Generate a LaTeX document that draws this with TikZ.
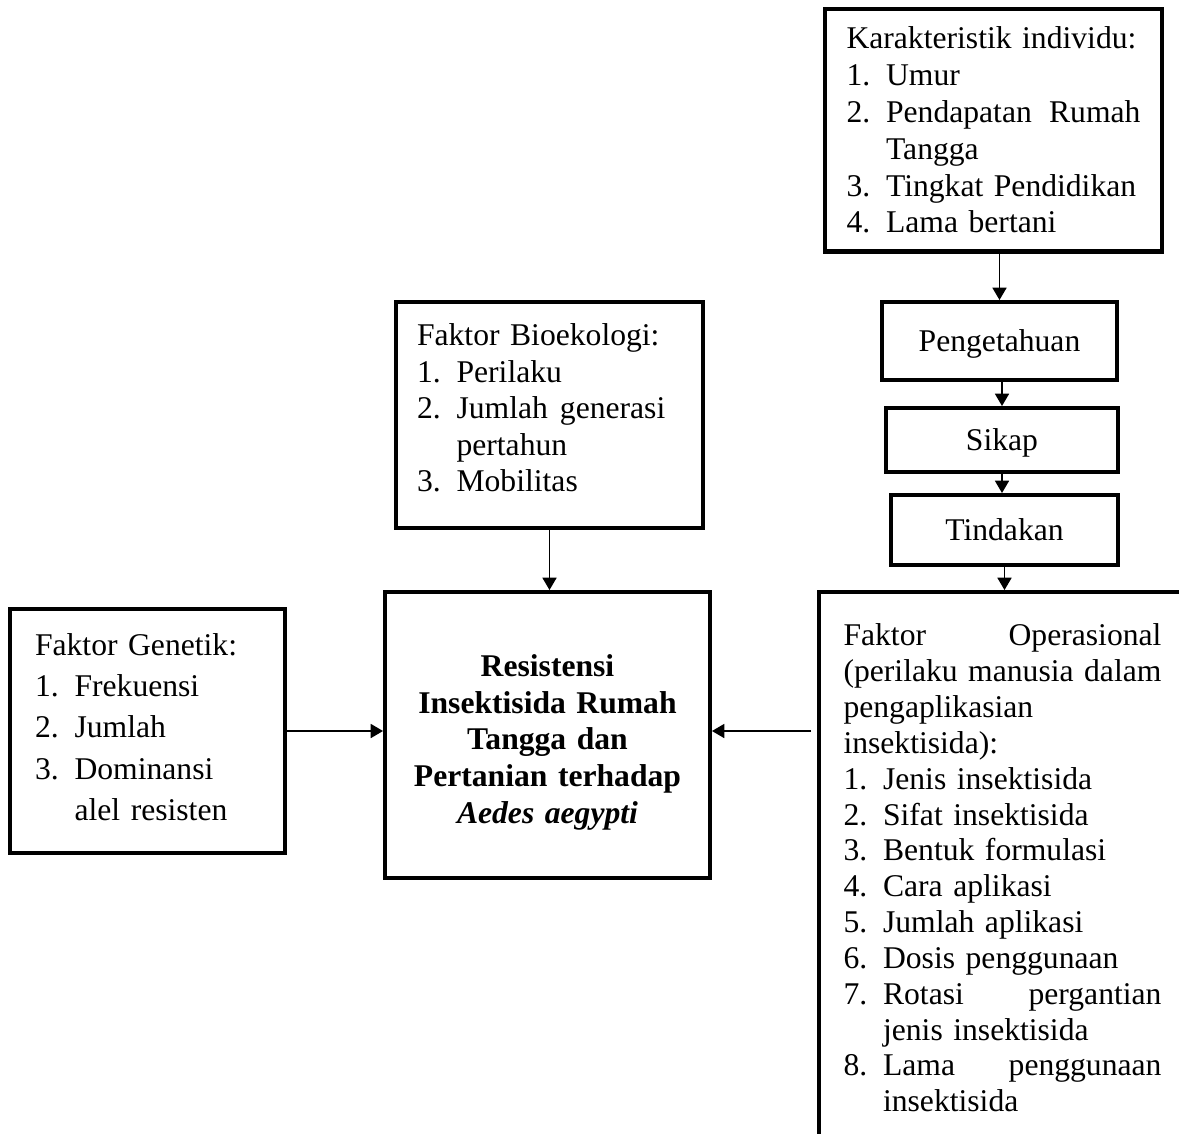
\documentclass[tikz,border=0pt]{standalone}
\usepackage{fontspec}
\setmainfont{Liberation Serif}
\usetikzlibrary{arrows.meta}
\tikzstyle{factor}=[
	rectangle,
	draw,
	line width=2.3pt,
	align=left,
	font=\fontsize{18}{20.75}\selectfont
]
\tikzstyle{stage}=[
	rectangle,
	draw,
	line width=2.3pt,
	text height=14pt,
	text depth=2pt,
	font=\fontsize{18}{21}\selectfont
]
\tikzstyle{flow}=[
	->,
	>={Triangle[length=7pt,width=8pt]},
	line width=0.8pt
]
\newcommand{\itm}[2]{\par\noindent\hangindent=1.25em\hangafter=1\makebox[1.25em][l]{#1.}#2\par}

\begin{document}
\begin{tikzpicture}[x=0.02cm,y=-0.02cm]
\useasboundingbox (0,0) rectangle (1179,1133);
\node [factor, text width=5.88cm, minimum width=6.74cm, minimum height=4.86cm, font=\fontsize{18}{21}\selectfont] (Karakteristik) at (993.5,130) {Karakteristik individu:
	\itm{1}{Umur}
	\itm{2}{Pendapatan \hfill Rumah\newline Tangga}
	\itm{3}{Tingkat Pendidikan}
	\itm{4}{Lama bertani}};
\node [stage, minimum width=4.7cm, minimum height=1.56cm] (Pengetahuan) at (999.5,341) {Pengetahuan};
\node [stage, minimum width=4.64cm, minimum height=1.28cm] (Sikap) at (1002,440) {Sikap};
\node [stage, minimum width=4.54cm, minimum height=1.4cm] (Tindakan) at (1004.5,530) {Tindakan};
\node [factor, text width=5.3cm, minimum width=6.14cm, minimum height=4.52cm] (Bioekologi) at (549.5,415) {Faktor Bioekologi:
	\itm{1}{Perilaku}
	\itm{2}{Jumlah\hspace{0.38em}generasi\newline pertahun}
	\itm{3}{Mobilitas}\kern0.28cm};
\node [factor, text width=4.5cm, minimum width=5.5cm, minimum height=4.88cm, font=\fontsize{18}{23.5}\selectfont] (Genetik) at (147.5,731) {Faktor Genetik:
	\itm{1}{Frekuensi}
	\itm{2}{Jumlah}
	\itm{3}{Dominansi\newline alel resisten}\kern0.16cm};
\node [factor, align=center, text width=5.6cm, minimum width=6.5cm, minimum height=5.72cm, font=\fontsize{18}{20.9}\selectfont\bfseries] (Resistensi) at (547.5,735) {\rule{0pt}{0.14cm}\\[-0.14cm]Resistensi\\Insektisida Rumah\\Tangga dan\\Pertanian terhadap\\\textit{Aedes aegypti}};
\node [factor, text width=6.36cm, minimum width=7.34cm, minimum height=11.04cm, font=\fontsize{18}{20.4}\selectfont] (Operasional) at (1002.5,868) {Faktor \hfill Operasional\newline
	(perilaku manusia dalam\newline
	pengaplikasian\newline
	insektisida):
	\itm{1}{Jenis insektisida}
	\itm{2}{Sifat insektisida}
	\itm{3}{Bentuk formulasi}
	\itm{4}{Cara aplikasi}
	\itm{5}{Jumlah aplikasi}
	\itm{6}{Dosis penggunaan}
	\itm{7}{Rotasi \hfill pergantian\newline jenis insektisida}
	\itm{8}{Lama \hfill penggunaan\newline insektisida}};
\draw [flow] (Pengetahuan.north |- Karakteristik.south) -- (Pengetahuan.north);
\draw [flow] (Sikap.north |- Pengetahuan.south) -- (Sikap.north);
\draw [flow] (Sikap.south) -- (Sikap.south |- Tindakan.north);
\draw [flow] (Tindakan.south) -- (Tindakan.south |- Operasional.north);
\draw [flow] (Bioekologi.south) -- (Bioekologi.south |- Resistensi.north);
\draw [flow] (Genetik.east) -- (Genetik.east -| Resistensi.west);
\draw [flow] ([xshift=-0.12cm]Operasional.west |- Genetik.east) -- (Resistensi.east |- Genetik.east);
\end{tikzpicture}
\end{document}
